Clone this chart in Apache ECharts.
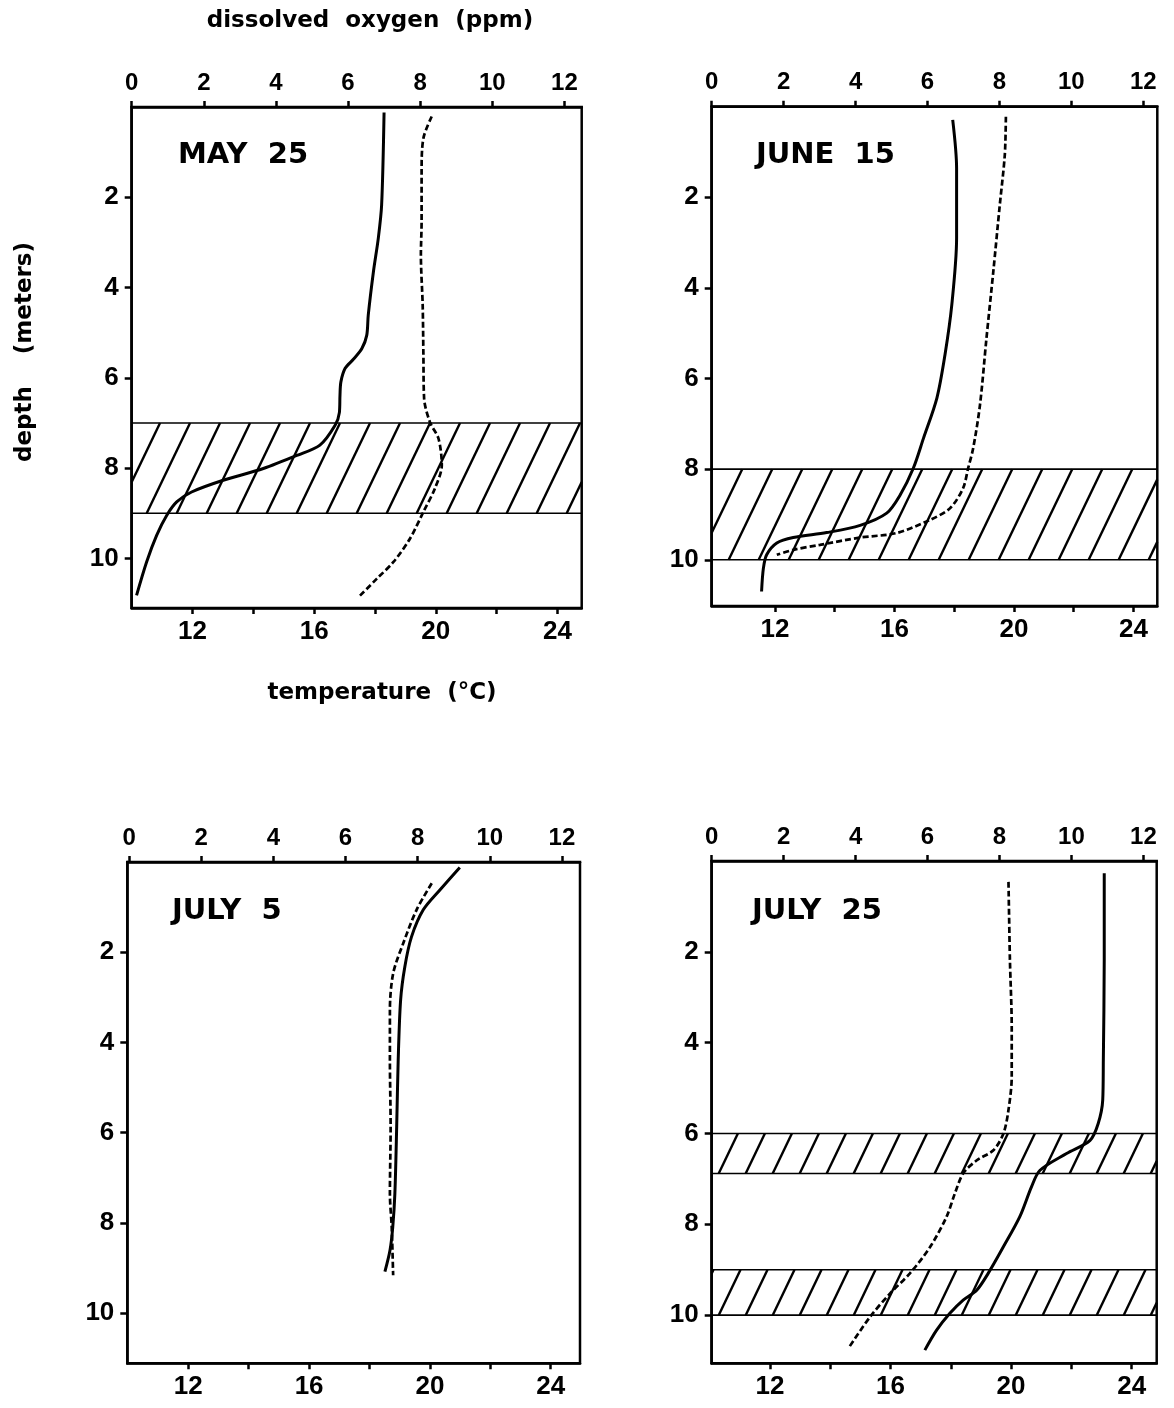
<!DOCTYPE html>
<html>
<head>
<meta charset="utf-8">
<script src="https://cdn.jsdelivr.net/npm/echarts@6/dist/echarts.min.js"></script>
<style>
  html, body { margin: 0; padding: 0; background: #fff; }
  #chart { width: 1174px; height: 1408px; }
</style>
</head>
<body>
<div id="chart"></div>
<script>
// ---- tick values ----
var oxygenTicks = [0, 2, 4, 6, 8, 10, 12];
var temperatureTicks = [12, 14, 16, 18, 20, 22, 24];
var temperatureLabels = [12, 16, 20, 24];
var depthTicks = [2, 4, 6, 8, 10];

// ---- panel names ----
var panelNames = ['MAY  25', 'JUNE  15', 'JULY  5', 'JULY  25'];

// ---- series values: [value, depth (m)] ----
var may25Temperature = [[18.30,0.12],[18.22,2.17],[18.11,2.91],[17.95,3.65],[17.78,4.61],[17.73,5.06],[17.57,5.35],[17.29,5.59],[17.02,5.79],[16.88,6.09],[16.85,6.39],[16.83,6.77],[16.69,7.05],[16.19,7.49],[15.43,7.72],[14.33,8.01],[13.01,8.27],[11.97,8.53],[11.48,8.75],[11.15,9.05],[10.82,9.49],[10.49,10.08],[10.16,10.82]];
var may25Oxygen = [[8.32,0.21],[8.09,0.69],[8.04,1.43],[8.04,2.54],[8.02,3.28],[8.07,4.39],[8.09,5.50],[8.11,6.46],[8.27,6.98],[8.51,7.35],[8.60,7.94],[8.41,8.45],[8.09,8.97],[7.72,9.56],[7.26,10.08],[6.80,10.45],[6.29,10.86]];

var june15Temperature = [[17.95,0.29],[18.08,1.36],[18.08,2.90],[17.92,4.37],[17.69,5.48],[17.42,6.43],[16.97,7.32],[16.63,7.98],[16.19,8.57],[15.74,8.97],[14.85,9.24],[13.73,9.40],[12.61,9.51],[12.06,9.63],[11.72,9.89],[11.61,10.19],[11.55,10.70]];
var june15Oxygen = [[8.18,0.22],[8.15,1.06],[8.01,2.17],[7.83,3.64],[7.64,5.11],[7.46,6.58],[7.27,7.54],[7.13,7.98],[6.99,8.42],[6.63,8.86],[6.07,9.12],[5.14,9.41],[4.12,9.51],[3.01,9.67],[2.27,9.78],[1.81,9.89]];

var july5Temperature = [[20.99,0.12],[20.33,0.62],[19.78,1.06],[19.39,1.66],[19.17,2.32],[19.03,3.06],[18.95,4.39],[18.90,5.87],[18.84,7.35],[18.77,8.09],[18.68,8.60],[18.51,9.08]];
var july5Oxygen = [[8.39,0.47],[7.97,1.06],[7.60,1.80],[7.32,2.47],[7.23,3.28],[7.23,4.39],[7.25,5.87],[7.23,7.35],[7.28,8.09],[7.32,9.16]];

var july25Temperature = [[23.09,0.27],[23.09,2.18],[23.06,4.38],[23.04,5.26],[22.89,5.78],[22.62,6.15],[21.84,6.44],[20.96,6.81],[20.68,7.17],[20.29,7.83],[19.74,8.50],[19.24,9.08],[18.86,9.45],[18.41,9.67],[17.97,9.96],[17.53,10.33],[17.14,10.77]];
var july25Oxygen = [[8.25,0.46],[8.29,2.18],[8.34,3.65],[8.34,4.75],[8.25,5.48],[8.11,6.00],[7.83,6.37],[7.37,6.59],[6.99,6.88],[6.76,7.32],[6.53,7.83],[6.07,8.50],[5.51,9.08],[4.96,9.52],[4.40,10.04],[3.80,10.73]];

// ---- hatched layers: [top depth, bottom depth] ----
var may25Bands = [[7, 9]];
var june15Bands = [[8, 10]];
var july5Bands = [];
var july25Bands = [[6, 6.88], [9, 10]];

// ---- layout / style (not data) ----
var panels = [
  { name: panelNames[0], temp: may25Temperature, oxy: may25Oxygen, bands: may25Bands,
    box: { left: 131.7, top: 107, width: 450, height: 501 },
    tempRange: [10, 24.8], oxyRange: [0, 12.48], depthMax: 11.1, step: 30, phase: 15, label: [178, 155] },
  { name: panelNames[1], temp: june15Temperature, oxy: june15Oxygen, bands: june15Bands,
    box: { left: 711.7, top: 106.7, width: 445.6, height: 499.3 },
    tempRange: [9.88, 24.8], oxyRange: [0, 12.39], depthMax: 11.02, step: 30, phase: 17, label: [756, 155] },
  { name: panelNames[2], temp: july5Temperature, oxy: july5Oxygen, bands: july5Bands,
    box: { left: 127.3, top: 862, width: 452.7, height: 501.3 },
    tempRange: [9.98, 24.97], oxyRange: [-0.05, 12.5], depthMax: 11.11, step: 30, phase: 15, label: [172, 911] },
  { name: panelNames[3], temp: july25Temperature, oxy: july25Oxygen, bands: july25Bands,
    box: { left: 711.7, top: 861, width: 445, height: 502.3 },
    tempRange: [10.07, 24.83], oxyRange: [0, 12.37], depthMax: 11.06, step: 27, phase: 7, label: [752, 911] }
];

var tickFont = { color: '#000', fontSize: 24, fontFamily: 'Liberation Sans', fontWeight: 'bold' };
var bottomFont = { color: '#000', fontSize: 26, fontFamily: 'Liberation Sans', fontWeight: 'bold' };

function bandRenderer(xMin, step, phase) {
  return function (params, api) {
    var cs = params.coordSys;
    var yTop = api.coord([xMin, api.value(0)])[1];
    var yBot = api.coord([xMin, api.value(1)])[1];
    var h = yBot - yTop;
    var dx = h * 0.48;
    var left = cs.x, right = cs.x + cs.width;
    var children = [];
    var start = left + phase - step * Math.ceil((dx + phase) / step + 1);
    for (var x0 = start; x0 < right; x0 += step) {
      var xa = x0, ya = yBot, xb = x0 + dx, yb = yTop;
      if (xb <= left || xa >= right) continue;
      if (xa < left) { var t = (left - xa) / (xb - xa); ya = ya + t * (yb - ya); xa = left; }
      if (xb > right) { var t2 = (right - xa) / (xb - xa); yb = ya + t2 * (yb - ya); xb = right; }
      children.push({ type: 'line', shape: { x1: xa, y1: ya, x2: xb, y2: yb },
        style: { stroke: '#000', lineWidth: 2.4, lineCap: 'butt' } });
    }
    children.push({ type: 'line', shape: { x1: left, y1: yTop, x2: right, y2: yTop }, style: { stroke: '#000', lineWidth: 1.6 } });
    children.push({ type: 'line', shape: { x1: left, y1: yBot, x2: right, y2: yBot }, style: { stroke: '#000', lineWidth: 1.6 } });
    return { type: 'group', children: children };
  };
}

var grids = [], xAxes = [], yAxes = [], series = [], graphics = [];

panels.forEach(function (p, i) {
  grids.push({ left: p.box.left, top: p.box.top, width: p.box.width, height: p.box.height,
    show: true, borderColor: '#000', borderWidth: 2.5, backgroundColor: 'transparent' });

  xAxes.push({ gridIndex: i, type: 'value', position: 'bottom', min: p.tempRange[0], max: p.tempRange[1],
    axisLine: { show: true, onZero: false, lineStyle: { color: '#000', width: 2.5 } },
    axisTick: { show: true, length: 6, lineStyle: { color: '#000', width: 2.5 }, customValues: temperatureTicks },
    axisLabel: Object.assign({ customValues: temperatureLabels, margin: 11 }, bottomFont),
    splitLine: { show: false } });

  xAxes.push({ gridIndex: i, type: 'value', position: 'top', min: p.oxyRange[0], max: p.oxyRange[1],
    axisLine: { show: true, onZero: false, lineStyle: { color: '#000', width: 2.5 } },
    axisTick: { show: true, length: 6, lineStyle: { color: '#000', width: 2.5 }, customValues: oxygenTicks },
    axisLabel: Object.assign({ customValues: oxygenTicks, margin: 12 }, tickFont),
    splitLine: { show: false } });

  yAxes.push({ gridIndex: i, type: 'value', inverse: true, min: 0, max: p.depthMax,
    axisLine: { show: true, onZero: false, lineStyle: { color: '#000', width: 2.5 } },
    axisTick: { show: true, length: 7, lineStyle: { color: '#000', width: 2.5 }, customValues: depthTicks },
    axisLabel: Object.assign({ customValues: depthTicks, margin: 13 }, bottomFont),
    splitLine: { show: false } });

  if (p.bands.length) {
    series.push({ type: 'custom', xAxisIndex: 2 * i, yAxisIndex: i, clip: false, z: 1,
      renderItem: bandRenderer(p.tempRange[0], p.step, p.phase),
      data: p.bands, silent: true });
  }
  series.push({ name: 'temperature', type: 'line', xAxisIndex: 2 * i, yAxisIndex: i, z: 3,
    data: p.temp, showSymbol: false, symbol: 'none', smooth: 0.3,
    lineStyle: { color: '#000', width: 3 } });
  series.push({ name: 'dissolved oxygen', type: 'line', xAxisIndex: 2 * i + 1, yAxisIndex: i, z: 3,
    data: p.oxy, showSymbol: false, symbol: 'none', smooth: 0.3,
    lineStyle: { color: '#000', width: 2.7, type: [6, 3] } });

  graphics.push({ type: 'text', x: p.label[0], y: p.label[1],
    style: { text: p.name, fill: '#000', font: 'bold 29px "DejaVu Sans"', textAlign: 'left', textVerticalAlign: 'middle' } });
});

graphics.push({ type: 'text', x: 370, y: 21,
  style: { text: 'dissolved  oxygen  (ppm)', fill: '#000', font: 'bold 23px "DejaVu Sans"', textAlign: 'center', textVerticalAlign: 'middle' } });
graphics.push({ type: 'text', x: 382, y: 693,
  style: { text: 'temperature  (°C)', fill: '#000', font: 'bold 23px "DejaVu Sans"', textAlign: 'center', textVerticalAlign: 'middle' } });
graphics.push({ type: 'text', x: 25, y: 352, rotation: Math.PI / 2,
  style: { text: 'depth    (meters)', fill: '#000', font: 'bold 23px "DejaVu Sans"', textAlign: 'center', textVerticalAlign: 'middle' } });

var chart = echarts.init(document.getElementById('chart'), null, { width: 1174, height: 1408 });
chart.setOption({
  animation: false,
  backgroundColor: '#fff',
  grid: grids,
  xAxis: xAxes,
  yAxis: yAxes,
  series: series,
  graphic: graphics
});
</script>
</body>
</html>
